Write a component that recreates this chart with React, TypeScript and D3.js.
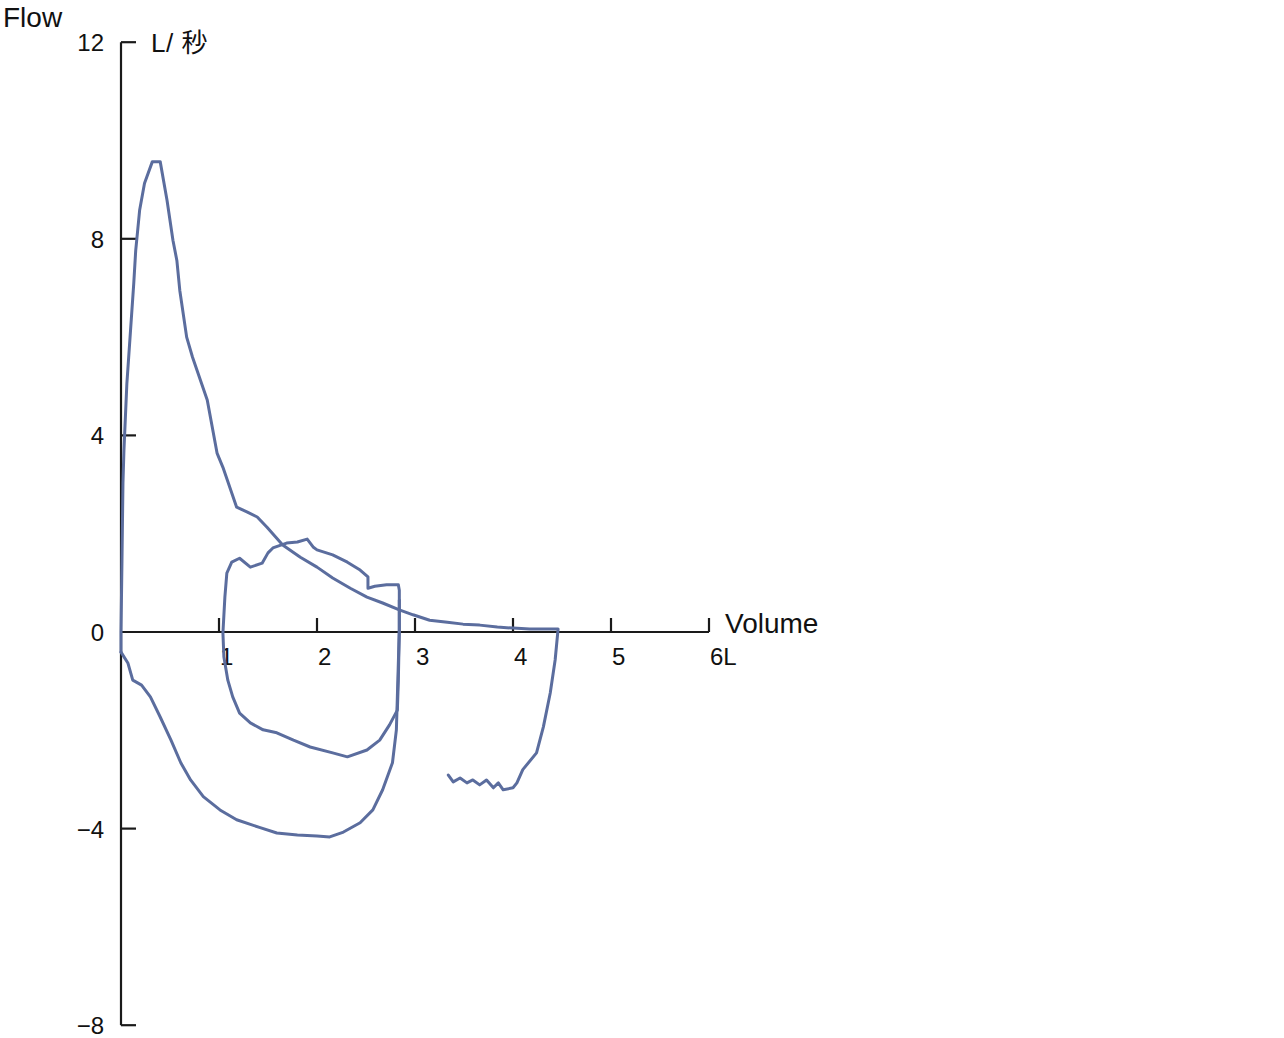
import * as d3 from 'd3'

const WIDTH = 1284
const HEIGHT = 1038
const ORIGIN = { x: 121, y: 632 }
const PX_PER_L = 98
const PX_PER_FLOW = 49.15

const LINE_COLOR = '#5b6d9e'
const FONT = '"Liberation Sans", Arial, "Noto Sans CJK JP", sans-serif'

// [volume (L), flow (L/s)]
const expirationCurve: [number, number][] = [
  [0.0, -0.41], [0.0, 0.0], [0.01, 1.46], [0.02, 3.03], [0.03, 3.7],
  [0.06, 5.06], [0.13, 7.09], [0.15, 7.76], [0.19, 8.58], [0.24, 9.13],
  [0.32, 9.57], [0.4, 9.57], [0.47, 8.78], [0.53, 7.97], [0.57, 7.56],
  [0.6, 6.95], [0.67, 6.0], [0.73, 5.59], [0.88, 4.72], [0.98, 3.64],
  [1.04, 3.35], [1.18, 2.54], [1.29, 2.44], [1.39, 2.34], [1.49, 2.13],
  [1.65, 1.77], [1.83, 1.52], [2.0, 1.32], [2.16, 1.1], [2.34, 0.89],
  [2.51, 0.71], [2.67, 0.59], [2.84, 0.45], [2.98, 0.35], [3.15, 0.24],
  [3.33, 0.2], [3.49, 0.16], [3.66, 0.14], [3.84, 0.1], [4.0, 0.08],
  [4.17, 0.06], [4.46, 0.06], [4.43, -0.57], [4.38, -1.24], [4.31, -1.93],
  [4.24, -2.46], [4.1, -2.8], [4.04, -3.07], [4.0, -3.17], [3.9, -3.21],
  [3.85, -3.07], [3.8, -3.17], [3.73, -3.01], [3.66, -3.11], [3.59, -3.01],
  [3.53, -3.07], [3.46, -2.97], [3.39, -3.05], [3.34, -2.91],
]

const inspirationCurve: [number, number][] = [
  [0.0, -0.41], [0.07, -0.63], [0.12, -0.98], [0.21, -1.08], [0.3, -1.32],
  [0.4, -1.73], [0.51, -2.2], [0.61, -2.66], [0.71, -3.01], [0.84, -3.35],
  [1.01, -3.62], [1.18, -3.82], [1.42, -3.98], [1.59, -4.09], [1.8, -4.13],
  [2.0, -4.15], [2.13, -4.17], [2.27, -4.07], [2.44, -3.88], [2.57, -3.62],
  [2.67, -3.21], [2.77, -2.66], [2.81, -1.99], [2.82, -1.32], [2.83, -0.63],
  [2.84, 0.04], [2.84, 0.65],
]

const tidalLoop: [number, number][] = [
  [1.04, -0.02], [1.06, 0.71], [1.08, 1.2], [1.13, 1.42], [1.21, 1.5],
  [1.32, 1.32], [1.44, 1.4], [1.5, 1.61], [1.55, 1.71], [1.69, 1.81],
  [1.8, 1.83], [1.9, 1.89], [1.96, 1.73], [2.0, 1.67], [2.16, 1.57],
  [2.31, 1.42], [2.44, 1.26], [2.52, 1.12], [2.52, 0.89], [2.59, 0.93],
  [2.71, 0.96], [2.83, 0.96], [2.84, 0.85], [2.84, 0.04], [2.83, -0.98],
  [2.82, -1.59], [2.74, -1.89], [2.64, -2.2], [2.51, -2.4], [2.31, -2.54],
  [2.16, -2.46], [1.93, -2.34], [1.76, -2.2], [1.59, -2.05], [1.45, -1.99],
  [1.32, -1.85], [1.21, -1.65], [1.14, -1.32], [1.09, -0.98], [1.05, -0.51],
  [1.04, -0.02],
]

const yTicks = [12, 8, 4, 0, -4, -8]
const xTicks = [1, 2, 3, 4, 5, 6]
const xTickLabels = ['1', '2', '3', '4', '5', '6L']

const x = d3
  .scaleLinear()
  .domain([0, 6])
  .range([ORIGIN.x, ORIGIN.x + 6 * PX_PER_L])

const y = d3
  .scaleLinear()
  .domain([-8, 12])
  .range([ORIGIN.y + 8 * PX_PER_FLOW, ORIGIN.y - 12 * PX_PER_FLOW])

const line = d3
  .line<[number, number]>()
  .x((d) => x(d[0]))
  .y((d) => y(d[1]))

function fmt(v: number) {
  return v < 0 ? `\u2212${Math.abs(v)}` : String(v)
}

export default function App() {
  const curves = [expirationCurve, inspirationCurve, tidalLoop]
  return (
    <svg
      width={WIDTH}
      height={HEIGHT}
      style={{ position: 'absolute', left: 0, top: 0, background: '#fff' }}
      fontFamily={FONT}
    >
      {/* axes */}
      <line x1={x(0)} x2={x(0)} y1={y(12)} y2={y(-8)} stroke="#1a1a1a" strokeWidth={2.2} />
      <line x1={x(0)} x2={x(6)} y1={y(0)} y2={y(0)} stroke="#1a1a1a" strokeWidth={2.2} />

      {yTicks.map((t) => (
        <g key={`y${t}`}>
          {t !== 0 && (
            <line x1={x(0)} x2={x(0) + 15} y1={y(t)} y2={y(t)} stroke="#1a1a1a" strokeWidth={2.2} />
          )}
          <text x={104} y={y(t) + 9} textAnchor="end" fontSize={24} fill="#111">
            {fmt(t)}
          </text>
        </g>
      ))}

      {xTicks.map((t, i) => (
        <g key={`x${t}`}>
          <line x1={x(t)} x2={x(t)} y1={y(0)} y2={y(0) - 14} stroke="#1a1a1a" strokeWidth={2.2} />
          <text x={x(t) + 1} y={665} textAnchor="start" fontSize={24} fill="#111">
            {xTickLabels[i]}
          </text>
        </g>
      ))}

      <text x={3} y={27} fontSize={28} fill="#111">Flow</text>
      <text x={151} y={52} fontSize={26} fill="#111" letterSpacing={0.5}>L/ 秒</text>
      <text x={725} y={633} fontSize={28} fill="#111">Volume</text>

      {/* flow-volume curves */}
      {curves.map((c, i) => (
        <path
          key={i}
          d={line(c) ?? ''}
          fill="none"
          stroke={LINE_COLOR}
          strokeWidth={3}
          strokeLinejoin="round"
          strokeLinecap="round"
        />
      ))}
    </svg>
  )
}
